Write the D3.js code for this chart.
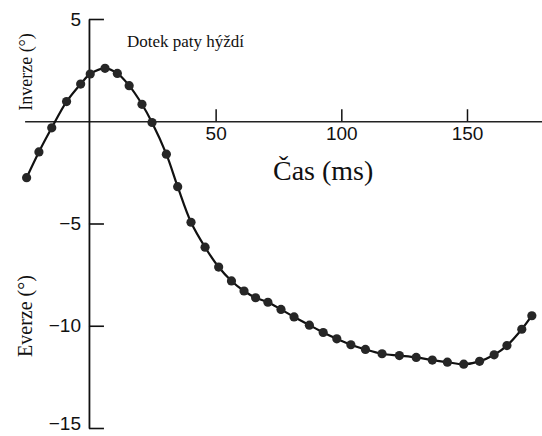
<!DOCTYPE html>
<html>
<head>
<meta charset="utf-8">
<script src="https://cdn.jsdelivr.net/npm/d3@7"></script>
<style>
  html, body { margin: 0; padding: 0; background: #fff; }
  svg { display: block; }
</style>
</head>
<body>
<svg id="chart" width="542" height="436"></svg>
<script>
// Rear-foot angle over time after heel strike (positive = inversion, negative = eversion)
const timeMs = [
  -25.2, -20.3, -15.2, -9.3, -3.7, 0.1, 6.0, 10.9, 15.6, 20.7,
  24.7, 30.4, 34.9, 40.2, 45.8, 51.2, 56.3, 61.3, 65.9, 70.8,
  76.0, 81.2, 87.3, 92.8, 98.2, 103.8, 109.6, 116.2, 123.1, 129.8,
  136.2, 142.2, 148.7, 155.0, 160.8, 165.9, 171.8, 175.8
];
const angleDeg = [
  -2.76, -1.50, -0.32, 0.96, 1.82, 2.31, 2.59, 2.34, 1.74, 0.83,
  -0.06, -1.61, -3.20, -4.94, -6.16, -7.13, -7.81, -8.30, -8.63, -8.85,
  -9.20, -9.57, -9.97, -10.33, -10.64, -10.93, -11.16, -11.37, -11.46, -11.55,
  -11.68, -11.78, -11.88, -11.74, -11.42, -10.97, -10.17, -9.51
];
const xTicks = [50, 100, 150];
const yTicks = [5, -5, -10, -15];

const xTitle = "Čas (ms)";
const yTitleUp = "Inverze (°)";
const yTitleDown = "Everze (°)";
const note = "Dotek paty hýždí";

const svg = d3.select("#chart");

const x = d3.scaleLinear().domain([-26, 180]).range([24.6, 542.4]);
const y = d3.scaleLinear().domain([-15, 5]).range([428, 19]);

const serif = "'Liberation Serif', 'Times New Roman', serif";
const sans = "'Liberation Sans', Arial, sans-serif";

// horizontal time axis through zero, ticks pointing up, labels below
const xAxis = d3.axisBottom(x)
  .tickValues(xTicks)
  .tickSizeInner(-12)
  .tickSizeOuter(0)
  .tickPadding(5)
  .tickFormat(d3.format("d"));

const gx = svg.append("g")
  .attr("transform", `translate(0,${y(0)})`)
  .call(xAxis);
gx.select(".domain").attr("stroke", "#222").attr("stroke-width", 1.6);
gx.selectAll(".tick line").attr("stroke", "#111").attr("stroke-width", 1.5);
gx.selectAll(".tick text")
  .attr("fill", "#111")
  .style("font-family", sans)
  .style("font-size", "19px");

// vertical angle axis, ticks pointing right
const yAxis = d3.axisLeft(y)
  .tickValues(yTicks)
  .tickSizeInner(-15)
  .tickSizeOuter(0)
  .tickPadding(8)
  .tickFormat(d => d < 0 ? "\u2212" + Math.abs(d) : String(d));

const gy = svg.append("g")
  .attr("transform", `translate(${x(0) - 1},0)`)
  .call(yAxis);
gy.select(".domain").attr("stroke", "#111").attr("stroke-width", 1.8);
gy.selectAll(".tick line").attr("stroke", "#111").attr("stroke-width", 1.6);
gy.selectAll(".tick text")
  .attr("fill", "#111")
  .style("font-family", sans)
  .style("font-size", "19px");
// keep the lowest label inside the frame
gy.selectAll(".tick text")
  .filter(d => d === -15)
  .attr("dy", "0.1em");

// titles
svg.append("text")
  .attr("x", 273).attr("y", 180)
  .attr("fill", "#111")
  .style("font-family", serif)
  .style("font-size", "28px")
  .text(xTitle);

svg.append("text")
  .attr("transform", "translate(32,72) rotate(-90)")
  .attr("text-anchor", "middle")
  .attr("fill", "#111")
  .style("font-family", serif)
  .style("font-size", "18px")
  .text(yTitleUp);

svg.append("text")
  .attr("transform", "translate(32,316) rotate(-90)")
  .attr("text-anchor", "middle")
  .attr("fill", "#111")
  .style("font-family", serif)
  .style("font-size", "20px")
  .text(yTitleDown);

svg.append("text")
  .attr("x", 127).attr("y", 47)
  .attr("fill", "#111")
  .style("font-family", serif)
  .style("font-size", "17px")
  .text(note);

// curve and sample points
const pts = timeMs.map((t, i) => [t, angleDeg[i]]);

const line = d3.line()
  .x(d => x(d[0]))
  .y(d => y(d[1]))
  .curve(d3.curveCatmullRom.alpha(0.5));

svg.append("path")
  .datum(pts)
  .attr("fill", "none")
  .attr("stroke", "#111")
  .attr("stroke-width", 2.2)
  .attr("d", line);

svg.append("g")
  .selectAll("circle")
  .data(pts)
  .join("circle")
  .attr("cx", d => x(d[0]))
  .attr("cy", d => y(d[1]))
  .attr("r", 4.6)
  .attr("fill", "#262626");
</script>
</body>
</html>
